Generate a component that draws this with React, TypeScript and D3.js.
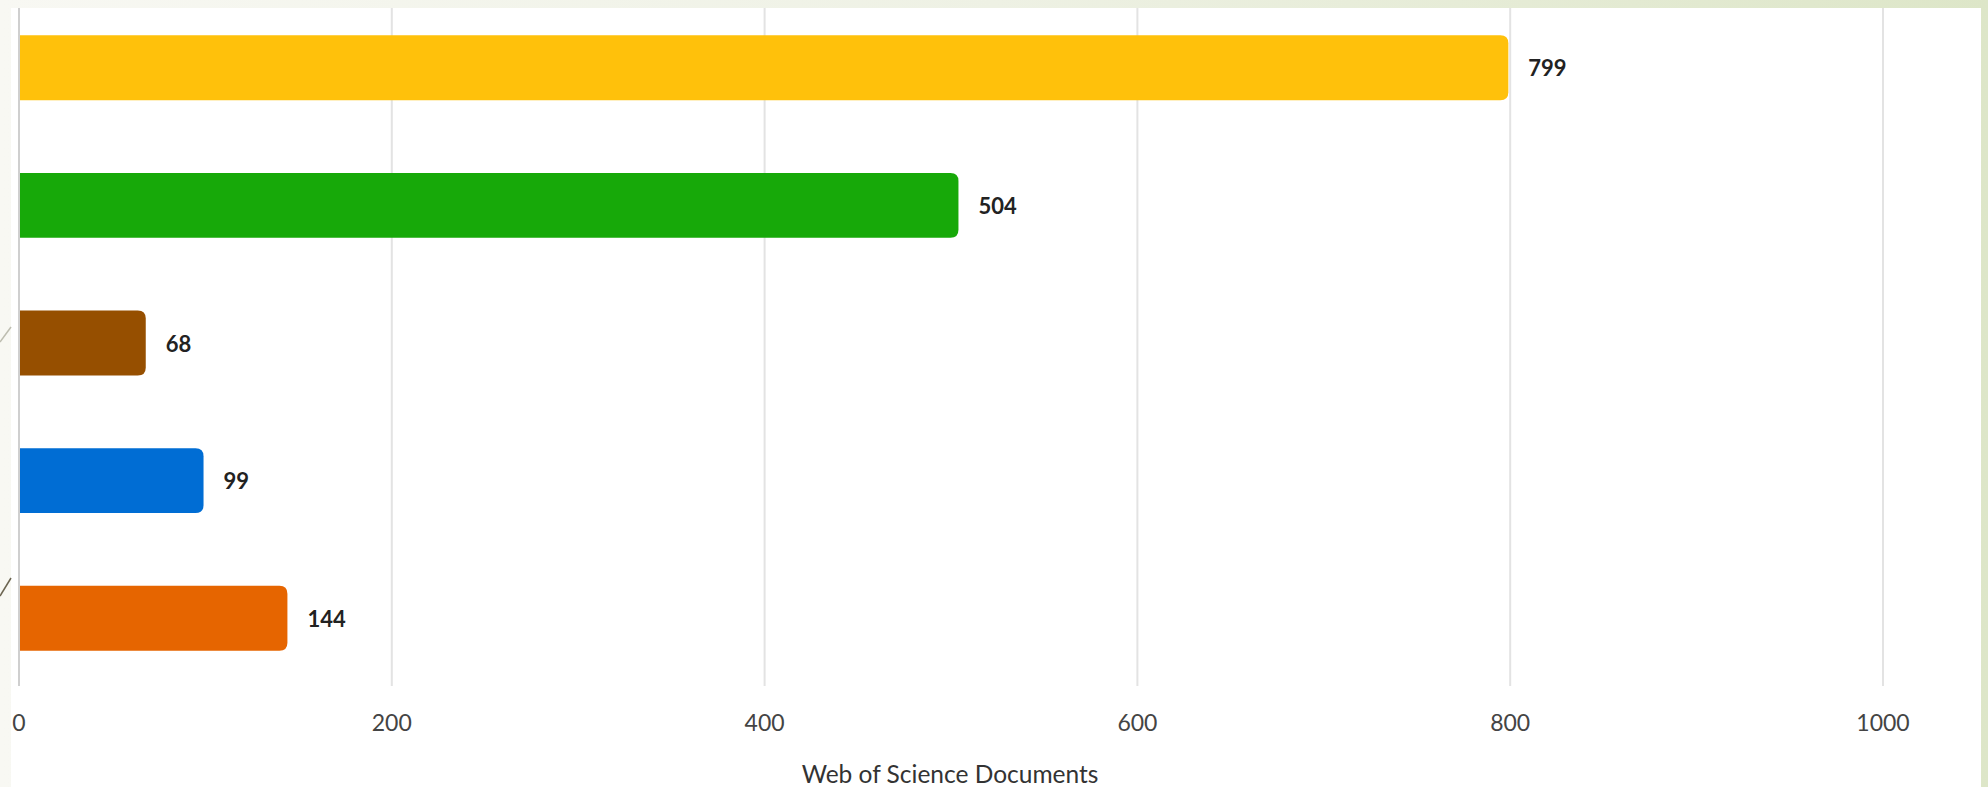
import React from "react";
import * as d3 from "d3";

const categories = ["Category 1", "Category 2", "Category 3", "Category 4", "Category 5"];
const values = [799, 504, 68, 99, 144];
const colors = ["#FFC10B", "#17A909", "#964F00", "#006DD4", "#E66500"];
const xTicks = [0, 200, 400, 600, 800, 1000];
const xTitle = "Web of Science Documents";

const W = 1988;
const H = 787;
const FONT = "Lato, 'Noto Sans', sans-serif";

function barPath(x0: number, x1: number, y: number, h: number, r: number) {
  const rr = Math.min(r, (x1 - x0) / 2, h / 2);
  return `M${x0},${y}H${x1 - rr}Q${x1},${y} ${x1},${y + rr}V${y + h - rr}Q${x1},${y + h} ${x1 - rr},${y + h}H${x0}Z`;
}

export default function App() {
  const x = d3.scaleLinear().domain([0, 1000]).range([19, 1883]);
  const y = d3
    .scaleBand<string>()
    .domain(categories)
    .range([-1, 687])
    .paddingInner(0.528)
    .paddingOuter(0.264);
  const bh = y.bandwidth();

  return (
    <svg
      width={W}
      height={H}
      style={{ position: "absolute", left: 0, top: 0, display: "block" }}
      fontFamily={FONT}
    >
      <defs>
        <linearGradient id="bg" x1="0" y1="0" x2="1" y2="0">
          <stop offset="0" stopColor="#f8f8f3" />
          <stop offset="0.5" stopColor="#eef1e4" />
          <stop offset="1" stopColor="#dde6c8" />
        </linearGradient>
      </defs>
      <rect x={0} y={0} width={W} height={H} fill="url(#bg)" />
      <rect x={11} y={8} width={1981 - 11} height={H - 8} fill="#ffffff" />
      <line x1={0} y1={342} x2={11} y2={327} stroke="#bdbdb0" strokeWidth={1.5} />
      <line x1={0} y1={596} x2={11} y2={578} stroke="#6b6450" strokeWidth={1.5} />

      {xTicks.map((t) => (
        <line
          key={"g" + t}
          x1={x(t)}
          x2={x(t)}
          y1={8}
          y2={686}
          stroke={t === 0 ? "#cfcfcf" : "#e3e3e3"}
          strokeWidth={2}
        />
      ))}

      {categories.map((c, i) => {
        const yy = y(c) as number;
        return (
          <g key={c}>
            <path d={barPath(x(0) + 1, x(values[i]), yy, bh, 8)} fill={colors[i]} />
            <text
              x={x(values[i]) + 20}
              y={yy + bh / 2}
              dominantBaseline="central"
              fontSize={22}
              fontWeight={700}
              fill="#222222"
            >
              {values[i]}
            </text>
          </g>
        );
      })}

      {xTicks.map((t) => (
        <text
          key={"t" + t}
          x={x(t)}
          y={722}
          textAnchor="middle"
          dominantBaseline="central"
          fontSize={23}
          fill="#444444"
        >
          {t}
        </text>
      ))}

      <text
        x={950}
        y={773}
        textAnchor="middle"
        dominantBaseline="central"
        fontSize={24.5}
        fill="#333333"
      >
        {xTitle}
      </text>
    </svg>
  );
}
